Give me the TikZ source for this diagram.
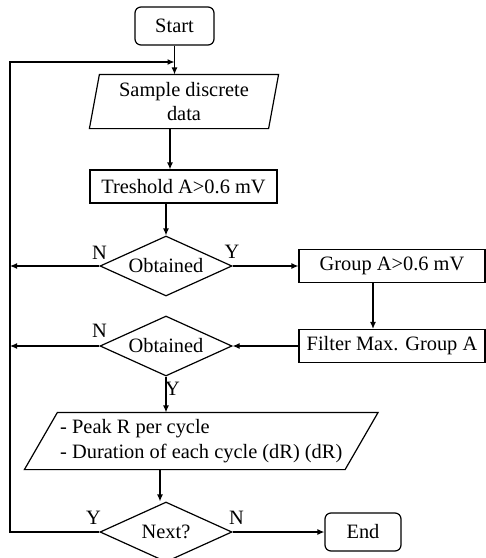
\documentclass[tikz,border=0pt]{standalone}
\usepackage{fontspec}
\setmainfont{Liberation Serif}
\usetikzlibrary{shapes.geometric,arrows.meta,calc}
\newcommand\diagfont{\fontsize{20.4}{24.5}\selectfont}
\begin{document}
\begin{tikzpicture}[x=1pt,y=-1pt,
  line width=1.2pt,
  every node/.style={font=\diagfont},
  box/.style={draw, rectangle, inner sep=0pt, minimum height=33pt},
  term/.style={box, rounded corners=6pt, minimum height=38pt},
  decision/.style={draw, diamond, aspect=2.2, inner sep=0pt,
                   minimum width=132pt, minimum height=60pt},
  iobody/.style={rectangle, inner sep=0pt, align=left},
  arr/.style={-{Latex[length=7pt,width=6pt]}},
  lbl/.style={inner sep=0pt}]
\useasboundingbox (0,0) rectangle (486,558);

% terminals
\node[term, minimum width=79pt] (start) at (174.5,26) {Start};
\node[term, minimum width=76pt] (end) at (363,532) {End};

% input/output blocks (parallelogram outlines drawn around them)
\node[iobody, minimum width=178pt, minimum height=53pt, align=center] (p1) at (184,101.5) {Sample discrete\\data};
\draw ([xshift=5pt]p1.north west) -- ([xshift=5pt]p1.north east)
   -- ([xshift=-5pt]p1.south east) -- ([xshift=-5pt]p1.south west) -- cycle;

\node[iobody, minimum width=319.5pt, minimum height=56pt] (p2) at (201.25,441)
  {- Peak R per cycle\\- Duration of each cycle (dR) (dR)};
\draw ([xshift=16.5pt]p2.north west) -- ([xshift=16.5pt]p2.north east)
   -- ([xshift=-16.5pt]p2.south east) -- ([xshift=-16.5pt]p2.south west) -- cycle;

% processes
\node[box, minimum width=187pt] (th) at (183.5,186.5) {Treshold A>0.6 mV};
\node[box, minimum width=186pt] (grp) at (392,266) {Group A>0.6 mV};
\node[box, minimum width=186pt] (flt) at (392,346) {Filter Max. Group A};

% decisions
\node[decision] (d1) at (166,266) {Obtained};
\node[decision] (d2) at (166,346) {Obtained};
\node[decision] (d3) at (166,532) {Next?};

% branch labels
\node[lbl] (n1) at (99.5,253) {N};
\node[lbl] (y1) at (232,252) {Y};
\node[lbl] (n2) at (99.5,331) {N};
\node[lbl] (y2) at (172.5,389) {Y};
\node[lbl] (y3) at (93.5,518) {Y};
\node[lbl] (n3) at (236.5,518) {N};

% left return line
\coordinate (lb) at (10,532);
\coordinate (lt) at (10,62);

% connectors
\draw[arr] (start.south) -- (start.south |- p1.north);
\draw[arr] ([xshift=-14pt]p1.south) -- ([xshift=-14pt]p1.south |- th.north);
\draw[arr] (d1.north |- th.south) -- (d1.north);
\draw[arr] (d1.west) -- (d1.west -| lb);
\draw[arr] (d1.east) -- (grp.west);
\draw[arr] ([xshift=-19pt]grp.south) -- ([xshift=-19pt]grp.south |- flt.north);
\draw[arr] (flt.west) -- (d2.east);
\draw[arr] (d2.west) -- (d2.west -| lb);
\draw[arr] (d2.south) -- (d2.south |- p2.north);
\draw[arr] ([xshift=-6pt]d3.north |- p2.south) -- ([xshift=-6pt]d3.north);
\draw[arr] (d3.east) -- (end.west);
\draw[arr] (d3.west) -- (lb) -- (lt) -- (lt -| start.south);
\end{tikzpicture}
\end{document}
